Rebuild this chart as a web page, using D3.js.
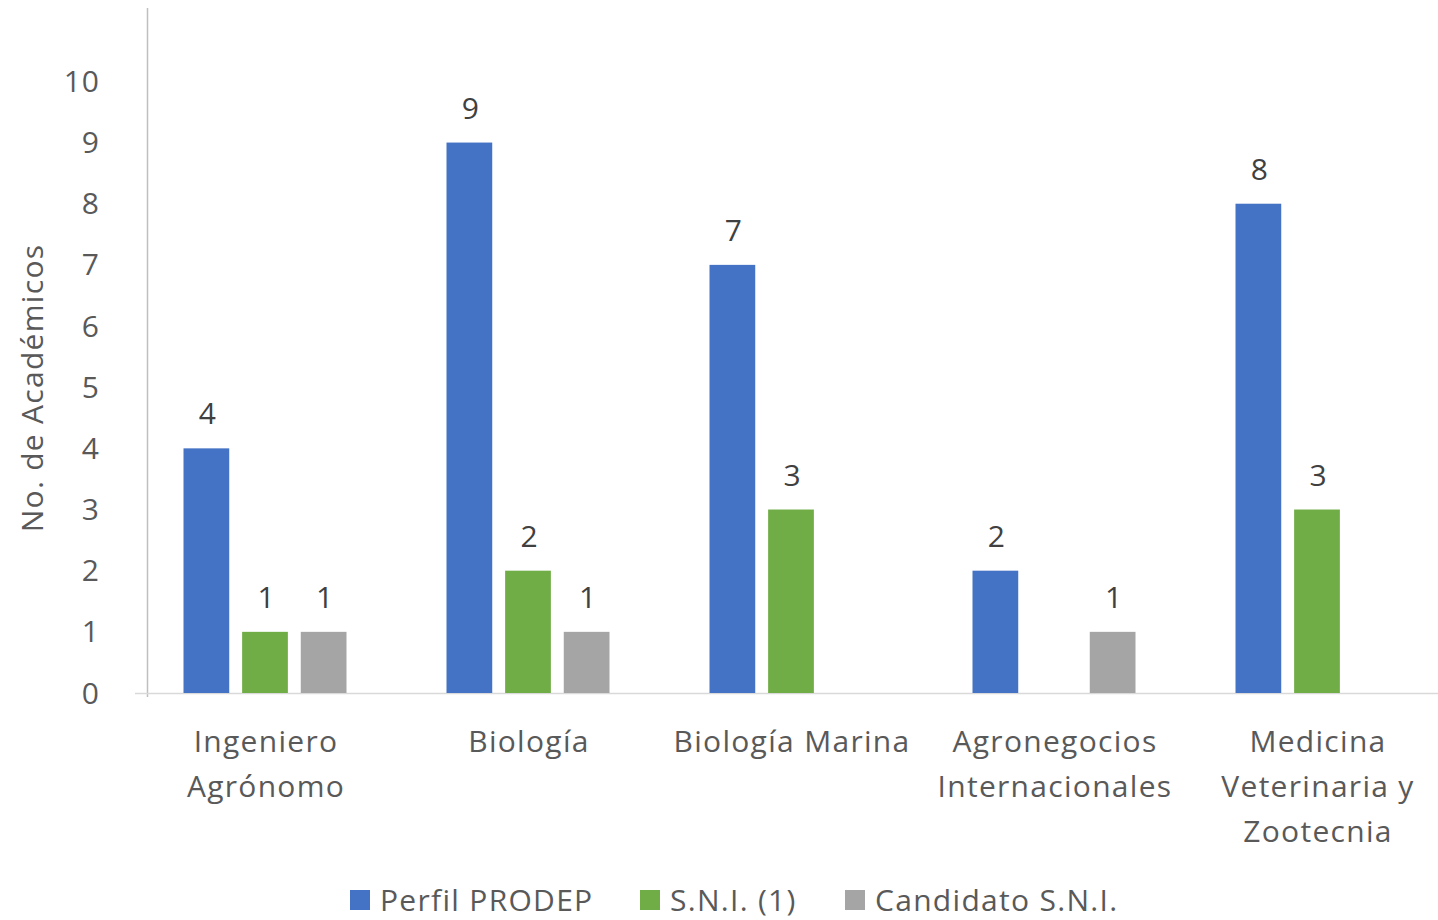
<!DOCTYPE html>
<html lang="es">
<head>
  <meta charset="UTF-8">
  <title>No. de Académicos por programa</title>
  <script src="https://d3js.org/d3.v7.min.js"></script>
  <style>
    html, body { margin: 0; padding: 0; background: #fff; }
    svg text { font-family: "Open Sans", "Liberation Sans", sans-serif; }
    .ancho { letter-spacing: 1.3px; }
  </style>
</head>
<body>
  <div id="chart"></div>
  <script>
    // datos
    var categorias = [
      ["Ingeniero", "Agrónomo"],
      ["Biología"],
      ["Biología Marina"],
      ["Agronegocios", "Internacionales"],
      ["Medicina", "Veterinaria y", "Zootecnia"]
    ];
    var series = ["Perfil PRODEP", "S.N.I. (1)", "Candidato S.N.I."];
    var perfilProdep = [4, 9, 7, 2, 8];
    var sni = [1, 2, 3, null, 3];
    var candidatoSni = [1, 1, null, 1, null];
    var yTicks = [0, 1, 2, 3, 4, 5, 6, 7, 8, 9, 10];
    var colores = ["#4472c4", "#70ad47", "#a5a5a5"];

    var W = 1438, H = 920;
    var valores = [perfilProdep, sni, candidatoSni];

    var svg = d3.select("#chart").append("svg")
      .attr("width", W).attr("height", H);

    // escalas
    var y = d3.scaleLinear().domain([0, 11.2]).range([693, 8]);
    var nombres = categorias.map(function(c) { return c.join(" "); });
    var x0 = d3.scaleBand().domain(nombres).range([133.5, 1448.5]).padding(0);
    var x1 = d3.scaleBand().domain(series)
      .range([x0.bandwidth() / 2 - 81.5, x0.bandwidth() / 2 + 81.5])
      .paddingInner(0.22).paddingOuter(0);

    // eje Y (solo linea y etiquetas)
    svg.append("line")
      .attr("x1", 147.5).attr("x2", 147.5)
      .attr("y1", y.range()[1]).attr("y2", 697)
      .attr("stroke", "#bfbfbf").attr("stroke-width", 1.5);

    svg.append("g").selectAll("text")
      .data(yTicks).enter().append("text")
      .attr("x", 100)
      .attr("y", function(d) { return y(d); })
      .attr("dy", "0.35em")
      .attr("text-anchor", "end")
      .attr("font-size", 30)
      .attr("letter-spacing", 1)
      .attr("fill", "#595959")
      .text(function(d) { return d; });

    // eje X
    svg.append("line")
      .attr("x1", 135).attr("x2", W)
      .attr("y1", 693.5).attr("y2", 693.5)
      .attr("stroke", "#d9d9d9").attr("stroke-width", 1.5);

    // barras
    var grupos = svg.append("g").selectAll("g")
      .data(nombres).enter().append("g")
      .attr("transform", function(d) { return "translate(" + x0(d) + ",0)"; });

    series.forEach(function(s, si) {
      grupos.each(function(d, ci) {
        var v = valores[si][ci];
        if (v === null) return;
        var g = d3.select(this);
        g.append("rect")
          .attr("x", x1(s))
          .attr("y", y(v))
          .attr("width", x1.bandwidth())
          .attr("height", y(0) - y(v))
          .attr("fill", colores[si]);
        g.append("text")
          .attr("x", x1(s) + x1.bandwidth() / 2 + 1)
          .attr("y", y(v) - 24)
          .attr("text-anchor", "middle")
          .attr("font-size", 30)
          .attr("fill", "#404040")
          .text(v);
      });
    });

    // etiquetas de categoria
    grupos.each(function(d, ci) {
      var t = d3.select(this).append("text")
        .attr("class", "ancho")
        .attr("text-anchor", "middle")
        .attr("font-size", 30)
        .attr("fill", "#595959");
      categorias[ci].forEach(function(linea, li) {
        t.append("tspan")
          .attr("x", x0.bandwidth() / 2 + 1)
          .attr("y", 741 + li * 45)
          .attr("dy", "0.35em")
          .text(linea);
      });
    });

    // titulo eje Y
    svg.append("text")
      .attr("class", "ancho")
      .attr("transform", "translate(32,388) rotate(-90)")
      .attr("text-anchor", "middle")
      .attr("dy", "0.35em")
      .attr("font-size", 30)
      .attr("fill", "#595959")
      .text("No. de Académicos");

    // leyenda
    var leyX = [350, 640, 845];
    var ley = svg.append("g").selectAll("g")
      .data(series).enter().append("g")
      .attr("transform", function(d, i) { return "translate(" + leyX[i] + ",890)"; });
    ley.append("rect")
      .attr("width", 20).attr("height", 20)
      .attr("fill", function(d, i) { return colores[i]; });
    ley.append("text")
      .attr("class", "ancho")
      .attr("x", 30).attr("y", 10).attr("dy", "0.35em")
      .attr("font-size", 30)
      .attr("fill", "#595959")
      .text(function(d) { return d; });
  </script>
</body>
</html>
